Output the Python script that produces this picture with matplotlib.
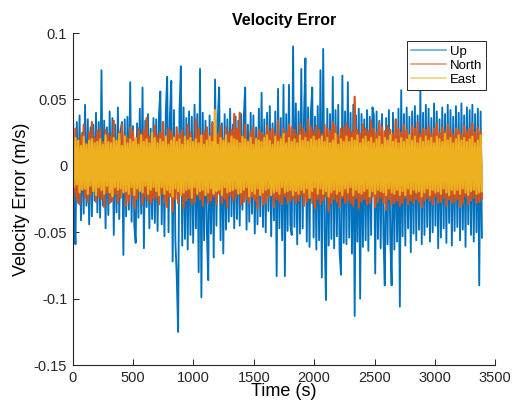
import numpy as np
import matplotlib
matplotlib.use("Agg")
import matplotlib.pyplot as plt

plt.rcParams['font.family'] = ['Liberation Sans', 'DejaVu Sans']
plt.rcParams['axes.unicode_minus'] = False

# velocity error samples, in mm/s (one sample every ~11 s)
up_mm = [
    62, -34, -59, 33, -28, 38, -41, 25, -36, 46, -30, 35, -44, 29, -38, 31, -26, 40, -35, 33,
    -39, 72, -30, 34, -47, 29, -37, 41, -27, 36, -52, 31, -35, 44, -40, 27, 33, -67, 35, -38,
    37, -33, 63, -42, 30, -45, -58, 32, -39, 43, -36, 59, -62, 34, -31, 39, -47, 28, -40, 36,
    -43, 35, -49, 38, 56, -44, 33, -53, 40, 67, -50, 37, 64, -72, 42, -57, -83, -125, 41, 75,
    -60, 44, -55, 36, -63, 41, -52, 37, -58, 46, -47, 39, -80, 73, -99, 40, -56, 34, -49, -86,
    38, -51, 33, -69, 65, -45, 36, 59, -56, 32, -66, 39, -48, 35, -42, 43, -38, 31, -47, 37,
    -40, 34, -45, 39, -33, 37, 59, -48, 31, -42, 40, -36, 38, -51, 29, -44, 43, -38, 55, -46,
    35, -50, 40, -34, 45, -53, 32, -41, 41, -83, 58, -47, 36, -56, 61, -83, 39, -49, 61, -44,
    -52, 90, -46, 47, -59, 41, -51, 73, -47, 38, 81, -57, 44, -61, 40, 59, -54, 37, -63, 45,
    -56, 72, -84, 88, -50, -101, 43, -60, 39, -55, 67, -62, 42, -53, 46, -65, -82, 68, -58, 41,
    -59, 63, -54, 40, -66, 46, -113, 38, -57, 43, -100, 39, -61, 35, -56, 42, -64, 37, -52, 44,
    38, -81, 41, -55, 34, -62, 39, -51, -90, 36, -59, 42, -54, -90, 40, -63, 35, -57, 43, -106,
    57, -53, 39, -60, 44, -47, 37, -65, 41, -51, 45, -56, 38, -48, 57, -59, 40, -52, 46, -46,
    43, -57, 36, -50, 47, -45, 41, -62, 35, -54, 44, -47, 39, -58, 46, -43, 42, -60, 37, -49,
    45, -46, 40, -56, 47, -48, 38, -61, 44, -44, 42, -52, 46, -57, 39, -50, 43, -90, 41, -54,
]
north_mm = [
    24, -21, 28, -26, 19, -29, 23, -18, 31, -24, 17, -27, 25, -22, 33, -19, 21, -27, 26, -23,
    29, -25, 18, -31, 27, -20, 24, -28, 22, -26, 34, -21, 19, -28, 25, -24, 31, -19, 23, -30,
    21, -27, 29, -22, 26, -32, 20, -25, 28, -18, 24, -29, 27, -23, 36, -26, 22, -28, 19, -25,
    30, -24, 23, -29, 25, -21, 33, -27, 20, -31, 28, -23, 26, -34, 22, -25, 29, -28, 24, -20,
    27, -32, 21, -26, 31, -24, 25, -29, 19, -27, 35, -22, 28, -25, 23, -30, 26, -21, 29, -28,
    22, -26, 32, -23, 27, -29, 24, -21, 30, -28, 20, -25, 29, -31, 25, -22, 27, -26, 39, -24,
    28, -21, 40, -29, 22, -27, 31, -25, 19, -28, 26, -23, 29, -26, 21, -32, 27, -22, 25, -29,
    23, -28, 30, -24, 26, -21, 28, -31, 24, -25, 34, -27, 22, -29, 28, -23, 25, -28, 31, -26,
    29, -24, 27, -28, 23, -26, 32, -22, 28, -30, 25, -27, 35, -24, 29, -28, 26, -32, 30, -25,
    27, -29, 24, -26, 31, -23, 28, -34, 26, -28, 33, -25, 30, -27, 23, -31, 28, -24, 29, -28,
    32, -26, 28, -28, 25, -30, 52, -24, 27, -32, 24, -27, 31, -25, 28, -29, 26, -28, 34, -23,
    28, -31, 25, -27, 32, -24, 29, -28, 26, -33, 30, -25, 27, -29, 24, -28, 35, -26, 28, -30,
    25, -28, 31, -24, 27, -29, 23, -26, 30, -28, 28, -25, 33, -27, 24, -31, 28, -26, 27, -24,
    30, -26, 24, -29, 28, -23, 32, -28, 25, -27, 29, -24, 26, -30, 31, -25, 27, -28, 23, -27,
    28, -25, 27, -31, 24, -28, 30, -23, 26, -29, 28, -26, 32, -24, 25, -28, 29, -27, 26, -25,
]
east_mm = [
    18, -16, 21, -14, 19, -20, 15, -18, 22, -17, 16, -21, 19, -15, 20, -19, 17, -22, 18, -16,
    20, -18, 16, -21, 23, -15, 18, -20, 17, -23, 21, -16, 19, -18, 24, -17, 15, -20, 22, -19,
    17, -21, 20, -16, 18, -22, 21, -17, 16, -19, 23, -20, 18, -15, 20, -21, 17, -18, 25, -16,
    21, -19, 17, -22, 20, -16, 18, -21, 22, -18, 16, -20, 19, -23, 21, -17, 18, -19, 20, -22,
    16, -20, 22, -18, 19, -17, 21, -24, 18, -16, 20, -21, 17, -19, 23, -18, 16, -22, 19, -20,
    22, -17, 18, -21, 42, -19, 16, -18, 21, -22, 19, -16, 23, -20, 17, -19, 22, -18, 20, -17,
    19, -21, 17, -20, 22, -18, 20, -16, 18, -23, 21, -19, 16, -21, 20, -17, 19, -22, 18, -20,
    21, -18, 23, -17, 19, -22, 16, -20, 22, -19, 18, -21, 20, -16, 24, -20, 17, -19, 21, -18,
    18, -22, 20, -19, 17, -21, 23, -18, 19, -20, 21, -17, 18, -24, 20, -19, 22, -16, 19, -21,
    20, -17, 22, -21, 18, -19, 21, -23, 17, -20, 19, -18, 24, -21, 16, -19, 20, -22, 18, -17,
    22, -20, 18, -16, 21, -22, 19, -18, 23, -20, 17, -21, 20, -19, 22, -17, 18, -23, 21, -19,
    17, -21, 20, -18, 22, -19, 16, -20, 21, -22, 19, -17, 23, -20, 18, -21, 20, -18, 17, -22,
    21, -19, 18, -22, 20, -17, 23, -21, 19, -18, 22, -20, 17, -19, 21, -23, 18, -20, 22, -17,
    19, -22, 21, -18, 17, -20, 22, -19, 20, -21, 18, -17, 24, -20, 19, -22, 21, -18, 17, -21,
    20, -18, 23, -21, 19, -17, 21, -20, 18, -22, 20, -19, 22, -18, 17, -21, 19, -20, 23, -19,
]
t_end = 3390  # last sample time (s)

yticks = [-0.15, -0.1, -0.05, 0, 0.05, 0.1]
ytick_labels = ['-0.15', '-0.1', '-0.05', '0', '0.05', '0.1']
xticks = [0, 500, 1000, 1500, 2000, 2500, 3000, 3500]

t = np.linspace(0, t_end, len(up_mm))
up = np.array(up_mm) / 1000.0
north = np.array(north_mm) / 1000.0
east = np.array(east_mm) / 1000.0

fig = plt.figure(figsize=(5.14, 4.03), dpi=100)
ax = fig.add_axes([0.1415, 0.094, 0.822, 0.824])

ax.plot(t, up, color='#0072BD', lw=1.35, label='Up')
ax.plot(t, north, color='#D95319', lw=1.6, label='North')
ax.plot(t, east, color='#EDB120', lw=1.6, label='East')

ax.set_xlim(0, 3500)
ax.set_ylim(-0.15, 0.1)
ax.set_xticks(xticks)
ax.set_yticks(yticks)
ax.set_yticklabels(ytick_labels)

for s in ['top', 'right']:
    ax.spines[s].set_visible(False)
for s in ['left', 'bottom']:
    ax.spines[s].set_color('#262626')
    ax.spines[s].set_linewidth(0.8)
ax.tick_params(direction='in', length=4, width=0.7, colors='#262626',
               labelsize=10.5, pad=4)

ax.set_title('Velocity Error', fontsize=11.5, fontweight='bold', pad=6)
ax.set_xlabel('Time (s)', fontsize=13, labelpad=-1)
ax.set_ylabel('Velocity Error (m/s)', fontsize=13, labelpad=3)

leg = ax.legend(loc='upper right', bbox_to_anchor=(0.978, 0.975), fontsize=9.5,
                fancybox=False, framealpha=1, edgecolor='#262626', borderpad=0.3,
                labelspacing=0.15, handlelength=2.6, handletextpad=0.3, borderaxespad=0)
leg.get_frame().set_linewidth(0.7)
for line in leg.get_lines():
    line.set_linewidth(1.2)
    line.set_alpha(0.6)

fig.savefig('out.png', dpi=100)
